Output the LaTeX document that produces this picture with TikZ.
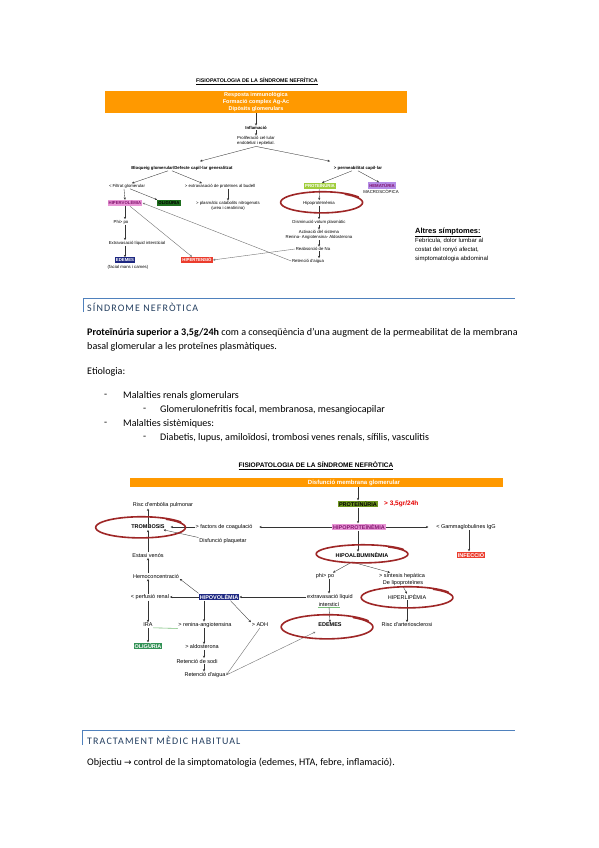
\documentclass[tikz,border=0pt]{standalone}
\usepackage{fontspec}
\setmainfont{Carlito}
\newfontfamily\arial{Liberation Sans}
\newfontfamily\symfont{DejaVu Sans}
\usetikzlibrary{arrows.meta}
\definecolor{headblue}{RGB}{79,129,189}
\definecolor{headtext}{RGB}{36,63,96}
\definecolor{orangebar}{RGB}{255,153,0}
\definecolor{loopred}{RGB}{158,38,38}
\definecolor{pinkbox}{RGB}{232,150,214}
\definecolor{pinktext}{RGB}{130,20,110}
\definecolor{limebox}{RGB}{160,205,60}
\definecolor{olivebox}{RGB}{110,150,30}
\definecolor{darkgreen}{RGB}{30,110,30}
\definecolor{seagreen}{RGB}{50,145,85}
\definecolor{lavbox}{RGB}{180,140,230}
\definecolor{navybox}{RGB}{30,40,130}
\definecolor{redbox}{RGB}{235,60,45}
\definecolor{spellgreen}{RGB}{120,190,120}

\newcommand{\topfont}{\arial\fontsize{4.3}{5.2}\selectfont}
\newcommand{\botfont}{\arial\fontsize{5.5}{6.6}\selectfont}
% hand drawn loop: centre x, centre y, radius x, radius y
\newcommand{\redloop}[4]{%
  \draw[loopred, line width=1.6pt, line cap=round]
    plot[smooth, domain=-55:330, samples=60]
    ({#1+#3*cos(\x)*(0.96+0.0001*(\x+55))}, {#2+#4*sin(\x)*(0.96+0.0002*(\x+55))});}

\begin{document}
\begin{tikzpicture}[x=1pt, y=-1pt,
  lbl/.style={font=\topfont, inner sep=0.6pt, align=center},
  lblb/.style={font=\topfont\bfseries, inner sep=0.6pt, align=center},
  tbox/.style={font=\topfont\bfseries, inner sep=1.1pt},
  blbl/.style={font=\botfont, inner sep=0.7pt, align=center},
  blblb/.style={font=\botfont\bfseries, inner sep=0.7pt, align=center},
  bbox/.style={font=\botfont\bfseries, inner sep=1pt},
  arr/.style={draw=black!80, line width=0.35pt, -{Stealth[length=2.4pt,width=2.2pt]}},
  link/.style={draw=black!55, line width=0.4pt, -{Stealth[length=2.4pt,width=2.2pt]}},
  body/.style={font=\fontsize{10.1}{12}\selectfont, anchor=west, inner sep=0pt},
  heading/.style={font=\fontsize{10}{12}\selectfont\addfontfeature{LetterSpace=11}, text=headtext, anchor=west, inner sep=0pt}]
\fill[white] (0,0) rectangle (599,848);
\useasboundingbox (0,0) rectangle (599,848);

% figure 1
\node[font=\arial\bfseries\fontsize{5.3}{6}\selectfont, inner sep=0.5pt] (t_title) at (257,81) {\underline{FISIOPATOLOGIA DE LA SÍNDROME NEFRÍTICA}};
\node[fill=orangebar, minimum width=302pt, minimum height=22pt, inner sep=0pt, text=white, font=\arial\bfseries\fontsize{5.5}{7}\selectfont, align=center] (t_resp) at (256,102) {Resposta immunològica\\Formació complex Ag-Ac\\Dipòsits glomerulars};
\node[lblb] (t_infl) at (256,128) {Inflamació};
\node[lbl] (t_prolif) at (256,141) {Proliferació cel·lular\\endotelial i epitelial.};
\node[lblb] (t_bloq) at (182,168) {Bloqueig glomerular/Defecte capil·lar generalitzat};
\node[lblb] (t_perm) at (358,168) {> permeabilitat capil·lar};
\draw[arr] (t_resp) -- (t_infl);
\draw[arr] (t_infl) -- (t_prolif);
\draw[arr] (t_prolif.south) -- ([xshift=18pt,yshift=4pt]t_bloq.north);
\draw[arr] (t_prolif.south) -- ([xshift=-28pt,yshift=4pt]t_perm.north);

\node[lbl] (t_filt) at (127,186) {< Filtrat glomerular};
\node[lbl] (t_extr) at (220,186) {> extravasació de proteïnes al budell};
\draw[arr] ([xshift=-14pt]t_bloq.south) -- ([xshift=5pt]t_filt.north);
\draw[arr] ([xshift=-10pt]t_bloq.south) -- ([xshift=-18pt]t_extr.north);

\node[tbox, fill=pinkbox, text=pinktext] (t_hiperv) at (125,203) {HIPERVOLÈMIA};
\node[tbox, fill=darkgreen, text=black] (t_olig) at (169,203) {OLIGÚRIA};
\node[lbl] (t_plasm) at (228,206) {> plasmàtic catabolits nitrogenats\\(urea i creatinina)};
\draw[arr] ([xshift=-3pt]t_filt.south) -- (t_hiperv.north);
\draw[arr] ([xshift=3pt]t_filt.south) -- (t_olig.north west);
\draw[arr] ([xshift=8pt]t_extr.south) -- (t_plasm.north);

\node[lbl] (t_phi) at (121,222) {Phi> po};
\node[lbl] (t_extl) at (137,243) {Extravasació líquid intersticial};
\node[tbox, fill=navybox, text=white] (t_edem) at (125,260) {EDEMES};
\node[lbl, anchor=north] (t_facial) at (128,264.5) {(facial mans i cames)};
\draw[arr] (t_hiperv.south) -- (t_hiperv.south |- t_phi.north);
\draw[arr] (t_phi.south -| t_hiperv) -- (t_extl.north -| t_hiperv);
\draw[arr] (t_extl.south -| t_hiperv) -- (t_edem.north);

\node[tbox, fill=redbox, text=white] (t_hipert) at (197,260) {HIPERTENSIÓ};
\draw[link] ([xshift=5pt]t_hiperv.south) -- ([xshift=-5pt]t_hipert.north);

\node[tbox, fill=limebox, text=white] (t_prot) at (320,186) {PROTEÏNÚRIA};
\node[tbox, fill=lavbox, text=pinktext] (t_hemat) at (382,185.5) {HEMATÚRIA};
\node[lbl, anchor=north] (t_macro) at (381,189) {MACROSCÒPICA};
\draw[arr] ([xshift=-6pt]t_perm.south) -- ([xshift=2pt]t_prot.north);
\draw[arr] (t_perm.south) -- ([xshift=-3pt]t_hemat.north);
\node[lbl] (t_hipop) at (319,203) {Hipoproteïnèmia};
\draw[arr] (t_prot) -- (t_hipop);
\node[lbl] (t_dism) at (319,222) {Disminució volum plasmàtic};
\draw[arr] (t_hipop) -- (t_dism);
\node[lbl] (t_activ) at (319,235) {Activació del sistema\\Renina- Angiotensina- Aldosterona};
\draw[arr] (t_dism) -- (t_activ);
\node[lbl] (t_reabs) at (313,249) {Reabsorció de Na};
\node[lbl] (t_reten) at (308,261) {Retenció d'aigua};
\draw[arr] (t_activ.south) -- (t_activ.south |- t_reabs.north);
\draw[arr] (t_reabs.south -| t_activ) -- (t_reten.north -| t_activ);
\draw[link] (t_reabs.west) -- (t_hipert.east);
\draw[link] (t_reten.west) -- (t_hiperv.east);
\redloop{322}{202.5}{42}{10.5}

\node[anchor=north west, align=left, inner sep=0pt, font=\arial\fontsize{6}{9}\selectfont] (t_altres) at (415,227.5) {{\bfseries\fontsize{7.5}{9}\selectfont\underline{Altres símptomes:}}\\Febrícula, dolor lumbar al\\costat del ronyó afectat,\\simptomatologia abdominal};

% section: sindrome nefrotica
\draw[headblue, line width=0.8pt] (83,312) -- (83,298) -- (515,298);
\node[heading] (h_nef) at (87,307) {SÍNDROME NEFRÒTICA};
\node[body] (p_line1) at (87,333) {\textbf{Proteïnúria superior a 3,5g/24h} com a conseqüència d’una augment de la permeabilitat de la membrana};
\node[body] (p_line2) at (87,347) {basal glomerular a les proteïnes plasmàtiques.};
\node[body] (p_etio) at (87,372) {Etiologia:};
\node[body] (p_d1) at (104,396) {-};
\node[body] (p_mal1) at (123,396) {Malalties renals glomerulars};
\node[body] (p_d2) at (143,410) {-};
\node[body] (p_glom) at (160,410) {Glomerulonefritis focal, membranosa, mesangiocapilar};
\node[body] (p_d3) at (104,424) {-};
\node[body] (p_mal2) at (123,424) {Malalties sistèmiques:};
\node[body] (p_d4) at (143,438) {-};
\node[body] (p_diab) at (160,438) {Diabetis, lupus, amiloïdosi, trombosi venes renals, sífilis, vasculitis};

% figure 2
\node[font=\arial\bfseries\fontsize{6.6}{8}\selectfont, inner sep=0.5pt] (b_title) at (316,466) {\underline{FISIOPATOLOGIA DE LA SÍNDROME NEFRÒTICA}};
\node[fill=orangebar, minimum width=373pt, minimum height=9pt, inner sep=0pt] (b_bar) at (316.5,482.5) {};
\node[font=\arial\bfseries\fontsize{6}{7}\selectfont, text=white, inner sep=0pt] (b_disf) at (354,482.5) {Disfunció membrana glomerular};
\node[bbox, fill=olivebox] (b_prot) at (358,504) {PROTEÏNÚRIA};
\node[anchor=west, font=\arial\bfseries\fontsize{6.5}{8}\selectfont, text=red!90!black, inner sep=0pt] (b_gt) at (384,504) {> 3,5gr/24h};
\draw[arr] (b_bar.south -| b_prot) -- (b_prot.north);
\node[bbox, fill=pinkbox, text=pinktext] (b_hipop) at (359,527) {HIPOPROTEÏNÈMIA};
\draw[arr] (b_prot.south) -- (b_prot.south |- b_hipop.north);
\node[blbl] (b_gamma) at (466,527) {< Gammaglobulines IgG};
\draw[arr] (b_hipop.east) -- ([xshift=-7pt]b_gamma.west);
\node[bbox, fill=redbox, text=white] (b_infec) at (471,555) {INFECCIÓ};
\draw[arr] ([xshift=3pt]b_gamma.south) -- ([xshift=-2pt]b_infec.north);

\node[blbl] (b_fact) at (224,527) {> factors de coagulació};
\draw[arr] (b_hipop.west) -- ([xshift=6pt]b_fact.east);
\node[blblb] (b_trom) at (148,527) {TROMBOSIS};
\draw[arr] (b_fact.west) -- ([xshift=5pt]b_trom.east);
\node[blbl] (b_risc) at (163,505) {Risc d'embòlia pulmonar};
\draw[arr] (b_trom.north) -- (b_trom.north |- b_risc.south);
\node[blbl] (b_disfp) at (223,541) {Disfunció plaquetar};
\draw[arr] (b_disfp.north west) -- ([xshift=-2pt]b_trom.south east);
\node[blbl] (b_estasi) at (148,555) {Estasi venós};
\draw[arr] (b_estasi.north) -- (b_trom.south);
\node[blbl] (b_hemo) at (156,576) {Hemoconcentració};
\draw[arr] (b_hemo.north -| b_estasi) -- (b_estasi.south);
\redloop{141}{527.5}{46}{10.5}

\node[blbl] (b_perf) at (150,597) {< perfusió renal};
\node[bbox, fill=navybox, text=white] (b_hipov) at (219,597) {HIPOVOLÈMIA};
\node[blbl] (b_extl) at (330,597) {extravasació líquid};
\node[blbl] (b_inters) at (329,604) {intersticí};
\draw[spellgreen, line width=0.5pt] (b_inters.south west) -- (b_inters.south east);
\draw[arr] (b_extl.west) -- (b_hipov.east);
\draw[arr] (b_hipov.west) -- (b_perf.east);
\draw[arr] (b_hipov.north west) -- (b_hemo.south east);
\draw[arr] (b_perf.north -| b_estasi) -- (b_hemo.south -| b_estasi);
\node[blbl] (b_ira) at (148,625) {IRA};
\draw[arr] (b_perf.south -| b_estasi) -- (b_ira.north);
\node[blbl] (b_renin) at (205,625) {> renina-angiotensina};
\draw[spellgreen, line width=0.6pt] (b_ira.south east) -- (b_renin.south west);
\node[blbl] (b_adh) at (260,625) {> ADH};
\coordinate (b_axis) at (204,0);
\draw[arr] (b_hipov.south -| b_axis) -- (b_renin.north -| b_axis);
\draw[arr] ([xshift=-9pt]b_hipov.south east) -- (b_adh.north west);
\node[bbox, fill=seagreen, text=white] (b_olig) at (148,646) {OLIGÚRIA};
\draw[arr] (b_ira) -- (b_olig);
\node[blbl] (b_aldo) at (202,647) {> aldosterona};
\node[blbl] (b_sodi) at (197,661) {Retenció de sodi};
\node[blbl] (b_aigua) at (205,675) {Retenció d'aigua};
\draw[arr] (b_renin.south -| b_axis) -- (b_aldo.north -| b_axis);
\draw[arr] (b_aldo.south -| b_axis) -- (b_sodi.north -| b_axis);
\draw[arr] (b_sodi.south -| b_axis) -- (b_aigua.north -| b_axis);
\draw[link] (b_adh.south) -- (b_aigua.east);

\node[blblb] (b_hipoalb) at (362,555) {HIPOALBUMINÈMIA};
\draw[arr] (b_hipop.south -| b_prot) -- (b_hipoalb.north -| b_prot);
\node[blbl] (b_phi) at (325,576) {phi> po};
\node[blbl] (b_sint) at (402,576) {> síntesis hepàtica};
\node[blbl] (b_lipo) at (403,583) {De lipoproteïnes};
\coordinate (b_fork) at (352,562);
\draw[arr] (b_fork) -- ([xshift=8pt]b_phi.north);
\draw[arr] (b_fork) -- ([xshift=-12pt]b_sint.north);
\draw[arr] (b_phi.south -| b_inters) -- (b_extl.north -| b_inters);
\node[blblb] (b_edem) at (330,625) {EDEMES};
\draw[arr] (b_inters.south) -- (b_edem.north);
\draw[link] (b_aigua.east) -- ([xshift=-2pt,yshift=-4pt]b_edem.south west);
\node[blbl] (b_hiperl) at (407,597) {HIPERLIPÈMIA};
\draw[arr] (b_lipo.south) -- (b_hiperl.north);
\node[blbl] (b_arter) at (407,625) {Risc d'arteriosclerosi};
\draw[arr] (b_hiperl) -- (b_arter);
\redloop{362.5}{554}{47}{9}
\redloop{327.5}{627}{47}{12}
\redloop{407.5}{597.5}{47}{10.5}

% section: tractament
\draw[headblue, line width=0.8pt] (82,745) -- (82,730) -- (515,730);
\node[heading] (h_trac) at (87,740) {TRACTAMENT MÈDIC HABITUAL};
\node[body] (p_obj) at (87,763) {Objectiu {\symfont\fontsize{9}{10}\selectfont →} control de la simptomatologia (edemes, HTA, febre, inflamació).};
\end{tikzpicture}
\end{document}
